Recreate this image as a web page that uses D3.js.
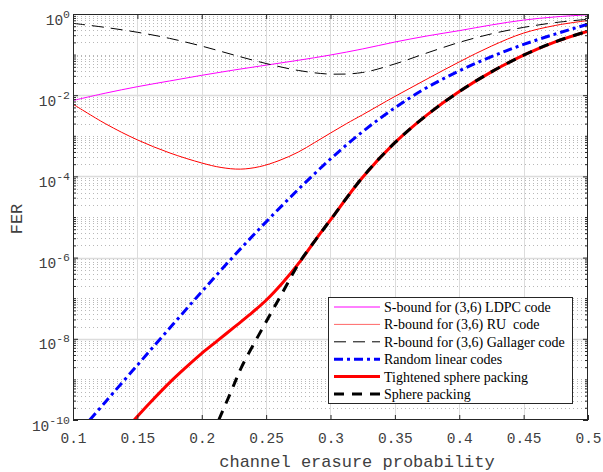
<!DOCTYPE html>
<html><head><meta charset="utf-8">
<script src="https://cdn.jsdelivr.net/npm/d3@7"></script>
<style>body{margin:0;background:#fff}svg{display:block}</style>
</head><body><svg id="chart" width="603" height="472"></svg>
<script>
// ---- data ----
const xTickValues = [0.1,0.15,0.2,0.25,0.3,0.35,0.4,0.45,0.5];
const xTickLabels = ["0.1","0.15","0.2","0.25","0.3","0.35","0.4","0.45","0.5"];
const yTickValues = [1e-10,1e-8,1e-6,1e-4,1e-2,1];
const yTickExponents = ["-10","-8","-6","-4","-2","0"];

const gridEps = [0.1,0.125,0.15,0.175,0.2,0.225,0.25,0.275,0.3,0.325,0.35,0.375,0.4,0.425,0.45,0.475,0.5];
const sBoundLDPC = [7.41e-3,1.12e-2,1.62e-2,2.24e-2,3.09e-2,4.17e-2,5.50e-2,7.24e-2,9.77e-2,0.138,0.204,0.288,0.389,0.537,0.708,0.851,0.955];
const rBoundGallager = [0.589,0.468,0.355,0.251,0.162,9.77e-2,6.03e-2,4.07e-2,3.31e-2,3.63e-2,5.89e-2,0.110,0.200,0.324,0.468,0.617,0.741];

const ruEps = [0.1,0.125,0.15,0.175,0.2,0.215,0.23,0.245,0.26,0.275,0.2875,0.3,0.3125,0.325,0.35,0.375,0.4,0.425,0.45,0.475,0.5];
const rBoundRU = [6.03e-3,2.00e-3,7.94e-4,3.80e-4,2.14e-4,1.66e-4,1.51e-4,1.74e-4,2.45e-4,3.98e-4,6.76e-4,1.17e-3,2.00e-3,3.31e-3,9.33e-3,2.51e-2,6.61e-2,0.162,0.339,0.525,0.692];

const randomEps = [0.113,0.125,0.15,0.175,0.2,0.225,0.25,0.275,0.3,0.325,0.35,0.375,0.4,0.425,0.45,0.475,0.5];
const randomLinear = [1e-10,2.75e-10,2.24e-9,1.82e-8,1.45e-7,1.10e-6,7.59e-6,4.79e-5,2.69e-4,1.27e-3,4.90e-3,1.55e-2,3.98e-2,8.91e-2,0.178,0.324,0.562];

const tightEps = [0.1475,0.16,0.175,0.1875,0.2,0.2125,0.225,0.2375,0.25,0.2625,0.2763,0.288,0.3,0.325,0.35,0.375,0.4,0.425,0.45,0.475,0.5];
const tightenedSphere = [1e-10,2.69e-10,8.32e-10,1.95e-9,4.37e-9,9.12e-9,1.91e-8,3.98e-8,8.91e-8,2.34e-7,7.94e-7,2.63e-6,8.51e-6,9.55e-5,6.76e-4,3.27e-3,1.23e-2,3.76e-2,9.66e-2,0.209,0.380];

const sphereEps = [0.2132,0.2233,0.231,0.2465,0.261,0.2763,0.288,0.3,0.325,0.35,0.375,0.4,0.425,0.45,0.475,0.5];
const spherePacking = [1e-10,5.50e-10,2.04e-9,1.66e-8,1.10e-7,7.94e-7,2.63e-6,8.51e-6,9.55e-5,6.76e-4,3.27e-3,1.23e-2,3.76e-2,9.66e-2,0.209,0.380];

const legendLabels = ["S-bound for (3,6) LDPC code","R-bound for (3,6) RU  code","R-bound for (3,6) Gallager code","Random linear codes","Tightened sphere packing","Sphere packing"];

// ---- layout ----
const L = 73, R = 588, T = 14, B = 420;
const svg = d3.select("#chart");
const x = d3.scaleLinear().domain([0.1,0.5]).range([L,R]);
const y = d3.scaleLog().domain([1e-10,1]).range([B,T]);

const monoFont = "'Liberation Mono','DejaVu Sans Mono',monospace";
const serifFont = "'Liberation Serif','DejaVu Serif',serif";
const axisColor = "#262626", textColor = "#404040";

// minor y tick positions (1..9 x 10^k, excluding labelled decades)
const yMinor = [];
for (let k = -10; k < 0; k++) {
  for (let m = 1; m <= 9; m++) {
    if (m === 1 && k % 2 === 0) continue;
    yMinor.push(m * Math.pow(10, k));
  }
}

svg.append("rect").attr("x",L).attr("y",T).attr("width",R-L).attr("height",B-T).attr("fill","#fff");

// minor grid (dotted)
svg.append("g").selectAll("line").data(yMinor).join("line")
  .attr("x1",L).attr("x2",R).attr("y1",d=>Math.round(y(d))+0.5).attr("y2",d=>Math.round(y(d))+0.5)
  .attr("stroke","#b8b8b8").attr("stroke-width",1).attr("stroke-dasharray","1,3");
// major grid
svg.append("g").selectAll("line").data(xTickValues.slice(1,-1)).join("line")
  .attr("x1",d=>Math.round(x(d))+0.5).attr("x2",d=>Math.round(x(d))+0.5).attr("y1",T).attr("y2",B)
  .attr("stroke","#dcdcdc").attr("stroke-width",1);
svg.append("g").selectAll("line").data(yTickValues.slice(1,-1)).join("line")
  .attr("x1",L).attr("x2",R).attr("y1",d=>Math.round(y(d))+0.5).attr("y2",d=>Math.round(y(d))+0.5)
  .attr("stroke","#dcdcdc").attr("stroke-width",1.5);

// curves
svg.append("defs").append("clipPath").attr("id","clip").append("rect")
  .attr("x",L).attr("y",T).attr("width",R-L).attr("height",B-T);
const line = d3.line().x(d=>x(d[0])).y(d=>y(d[1])).curve(d3.curveCatmullRom.alpha(0.5));
const series = [
  {xs:gridEps, ys:sBoundLDPC, color:"#ff00ff", w:1, dash:null},
  {xs:ruEps, ys:rBoundRU, color:"#ff0000", w:1, dash:null},
  {xs:gridEps, ys:rBoundGallager, color:"#000000", w:1, dash:"12,7"},
  {xs:randomEps, ys:randomLinear, color:"#0000ff", w:3, dash:"9,4,3,4"},
  {xs:tightEps, ys:tightenedSphere, color:"#ff0000", w:3, dash:null},
  {xs:sphereEps, ys:spherePacking, color:"#000000", w:3, dash:"10,8"}
];
const cg = svg.append("g").attr("clip-path","url(#clip)");
series.forEach(s => {
  cg.append("path").datum(s.xs.map((v,i)=>[v,s.ys[i]]))
    .attr("d",line).attr("fill","none").attr("stroke",s.color)
    .attr("stroke-width",s.w).attr("stroke-dasharray",s.dash);
});

// axes (inward ticks)
function styleAxis(g){ g.select(".domain").remove(); g.selectAll(".tick line").attr("stroke",axisColor); }
svg.append("g").attr("transform",`translate(0,${B})`)
  .call(d3.axisBottom(x).tickValues(xTickValues).tickSize(-5).tickPadding(12.7)
    .tickFormat((d,i)=>xTickLabels[i]))
  .call(styleAxis)
  .call(g=>g.selectAll("text").attr("font-family",monoFont).attr("font-size","14.5px").attr("fill",textColor));
svg.append("g").attr("transform",`translate(0,${T})`)
  .call(d3.axisTop(x).tickValues(xTickValues).tickSize(-5).tickFormat("")).call(styleAxis);
svg.append("g").attr("transform",`translate(${L},0)`)
  .call(d3.axisLeft(y).tickValues(yTickValues).tickSize(-5).tickFormat("")).call(styleAxis);
svg.append("g").attr("transform",`translate(${L},0)`)
  .call(d3.axisLeft(y).tickValues(yMinor).tickSize(-3).tickFormat("")).call(styleAxis);
svg.append("g").attr("transform",`translate(${R},0)`)
  .call(d3.axisRight(y).tickValues(yTickValues).tickSize(-5).tickFormat("")).call(styleAxis);
svg.append("g").attr("transform",`translate(${R},0)`)
  .call(d3.axisRight(y).tickValues(yMinor).tickSize(-3).tickFormat("")).call(styleAxis);

// y tick labels with superscripts
const yl = svg.append("g").attr("font-family",monoFont).attr("fill",textColor);
yTickValues.forEach((v,i)=>{
  const t = yl.append("text").attr("x",70).attr("y",y(v)+10.5).attr("text-anchor","end");
  t.append("tspan").attr("font-size","14.5px").text("10");
  t.append("tspan").attr("font-size","11.5px").attr("dy",-7).text(yTickExponents[i]);
});

// box
svg.append("rect").attr("x",L+0.5).attr("y",T+0.5).attr("width",R-L-1).attr("height",B-T-1)
  .attr("fill","none").attr("stroke",axisColor).attr("stroke-width",1);

// axis titles
svg.append("text").attr("x",357).attr("y",467).attr("text-anchor","middle")
  .attr("font-family",monoFont).attr("font-size","17px").attr("fill",textColor)
  .text("channel erasure probability");
svg.append("text").attr("transform","translate(22,219) rotate(-90)").attr("text-anchor","middle")
  .attr("font-family",monoFont).attr("font-size","17px").attr("fill",textColor).text("FER");

// legend
const lg = svg.append("g");
lg.append("rect").attr("x",328.5).attr("y",297.5).attr("width",244).attr("height",106)
  .attr("fill","#fff").attr("stroke",axisColor).attr("stroke-width",1);
series.forEach((s,i)=>{
  const cy = 307 + i*17.4;
  lg.append("line").attr("x1",334).attr("x2",380).attr("y1",cy).attr("y2",cy)
    .attr("stroke",s.color).attr("stroke-width",s.w).attr("stroke-dasharray",s.dash)
    .attr("stroke-opacity", (i===1)?0.6:1);
  lg.append("text").attr("x",384).attr("y",cy+5).attr("font-family",serifFont)
    .attr("font-size","14px").attr("fill","#000").style("white-space","pre").text(legendLabels[i]);
});
</script></body></html>
